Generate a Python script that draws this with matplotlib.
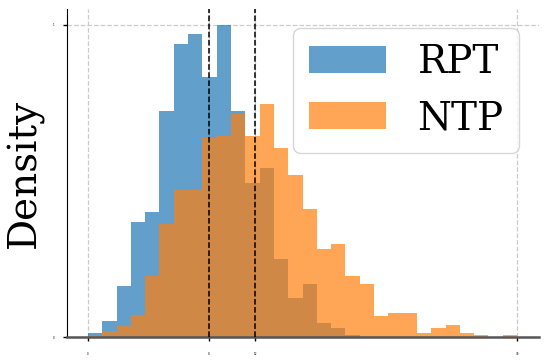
import numpy as np
import matplotlib.pyplot as plt

# bin edges (30 equal bins) and the heights
edges = np.arange(31)
rpt = [4.3, 16, 51, 115.3, 125, 226, 292.7, 302.7, 260.3, 312.3,
       226, 154.3, 169.3, 78.3, 39.3, 53.3, 14.3, 9.3, 2.3, 0,
       0, 0, 0, 0, 0, 0, 0, 0, 0, 0]
ntp = [1.3, 6.3, 11.3, 21.7, 60.7, 112.7, 147.3, 147.3, 199.3, 201.3,
       223.3, 201.3, 233, 188.7, 162, 127.7, 88, 92.7, 60.7, 53.3,
       21.3, 23.7, 23.7, 4.3, 9, 11.7, 4.3, 2, 0, 2]
mean_lines = [8.46, 11.68]

centers = edges[:-1] + 0.5

fig = plt.figure(figsize=(5.48, 3.62), dpi=100)
ax = fig.add_axes([0.1214, 0.069, 0.8613, 0.906])

ax.hist(centers, bins=edges, weights=rpt, alpha=0.7, color='#1f77b4', label='RPT')
ax.hist(centers, bins=edges, weights=ntp, alpha=0.7, color='#ff7f0e', label='NTP')

for m in mean_lines:
    ax.axvline(m, color='black', linestyle='--', linewidth=1.1, zorder=5)

ax.set_xticks([edges[0]] + mean_lines + [edges[-1]])
ax.set_xticklabels(['0', '8', '12', '30'], fontsize=2)
ax.set_yticks([0, max(rpt)])
ax.set_yticklabels(['0', '1'], fontsize=2)
ax.tick_params(length=3, width=1)
ax.tick_params(axis='x', pad=8)
ax.tick_params(axis='y', pad=6)

ax.grid(True, linestyle='--', color='#cccccc', linewidth=0.9)
ax.set_axisbelow(True)

ax.spines['top'].set_visible(False)
ax.spines['right'].set_visible(False)
ax.spines['left'].set_color('black')
ax.spines['bottom'].set_color('#555555')
ax.spines['bottom'].set_linewidth(1.8)

ax.set_ylabel('Density', fontsize=28, family='DejaVu Serif', labelpad=6)
ax.legend(loc='upper right', prop={'family': 'DejaVu Serif', 'size': 28})

fig.savefig('out.png', dpi=100)
